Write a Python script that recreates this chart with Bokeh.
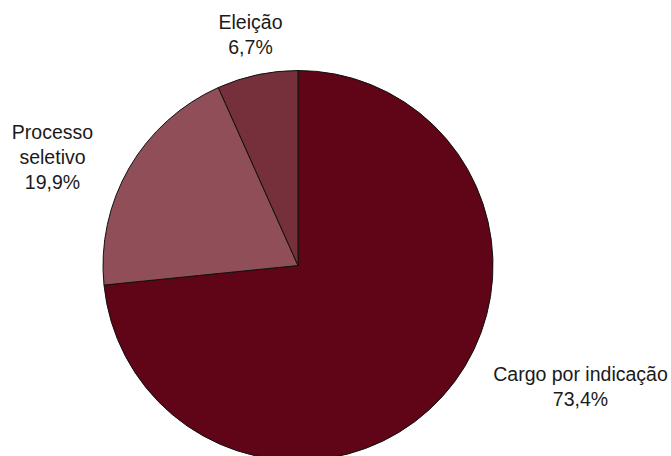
import math
from bokeh.plotting import figure
from bokeh.models import ColumnDataSource, Range1d
from bokeh.core.properties import value
from bokeh.embed import file_html
from bokeh.resources import INLINE

categories = ["Cargo por indicação", "Processo seletivo", "Eleição"]
percentages = [73.4, 19.9, 6.7]
value_labels = ["73,4%", "19,9%", "6,7%"]
label_lines = [["Cargo por indicação", "73,4%"], ["Processo", "seletivo", "19,9%"], ["Eleição", "6,7%"]]
colors = ["#5F0517", "#8F4E58", "#76303B"]

W, H = 671, 456
cx, cy, R = 297.5, H - 265, 195

# wedges clockwise from 12 o'clock
total = sum(percentages)
starts, ends = [], []
a = math.pi / 2
for v in percentages:
    sweep = v / total * 2 * math.pi
    ends.append(a)
    starts.append(a - sweep)
    a -= sweep

src = ColumnDataSource(dict(start=starts, end=ends, color=colors, cat=categories))

p = figure(width=W, height=H, output_backend="svg", toolbar_location=None,
           x_range=Range1d(0, W), y_range=Range1d(0, H), min_border=0)
p.axis.visible = False
p.grid.visible = False
p.outline_line_color = None
p.background_fill_color = "white"

p.wedge(x=cx, y=cy, radius=R, start_angle="start", end_angle="end", source=src,
        fill_color="color", line_color="#111111", line_width=1)

# label anchor (center x, first-line middle y in pixel coords)
anchors = [(580, 373), (52, 131), (250, 21)]
line_gap = 25
tx, ty, tt = [], [], []
for (ax, ay), lines in zip(anchors, label_lines):
    for i, ln in enumerate(lines):
        tx.append(ax)
        ty.append(H - (ay + i * line_gap))
        tt.append(ln)

p.text(x=tx, y=ty, text=tt, text_align="center", text_baseline="middle",
       text_font=value("Liberation Sans"), text_font_size="19.5px", text_color="#1a1a1a")

open("out.html", "w").write(file_html(p, INLINE))
